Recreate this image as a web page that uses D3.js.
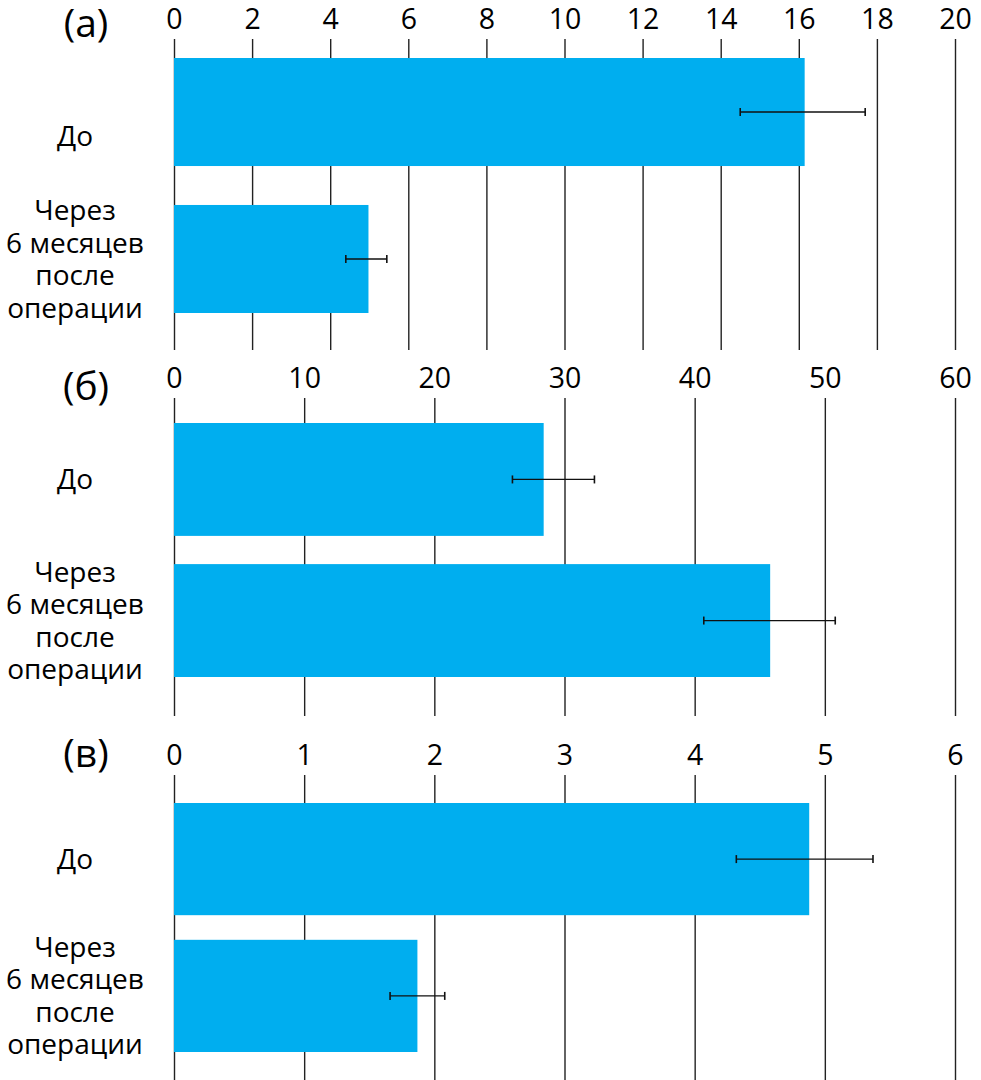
<!DOCTYPE html>
<html lang="ru">
<head>
    <meta charset="UTF-8">
    <title>До и через 6 месяцев после операции</title>
    <script src="https://cdn.jsdelivr.net/npm/d3@7/dist/d3.min.js"></script>
    <style>
        body { margin: 0; background: #fff; }
        text { font-family: "Open Sans", "Noto Sans", sans-serif; fill: #000; }
    </style>
</head>
<body>
    <svg width="981" height="1080" id="chart"></svg>
    <script>
        // data
        const categories = ["До", "Через 6 месяцев после операции"];
        const labelLines = [["До"], ["Через", "6 месяцев", "после", "операции"]];
        const panelNames = ["(а)", "(б)", "(в)"];
        const axisMax = [20, 60, 6];
        const tickStep = [2, 10, 1];

        const valuesA = [16.15, 4.98];
        const errLowA = [14.5, 4.4];
        const errHighA = [17.7, 5.45];

        const valuesB = [28.4, 45.8];
        const errLowB = [26.0, 40.7];
        const errHighB = [32.3, 50.8];

        const valuesC = [4.88, 1.87];
        const errLowC = [4.32, 1.66];
        const errHighC = [5.37, 2.08];

        const allValues = [valuesA, valuesB, valuesC];
        const allLow = [errLowA, errLowB, errLowC];
        const allHigh = [errHighA, errHighB, errHighC];

        // layout of each panel (pixels)
        const layout = [
            { gridTop: 39, gridBottom: 350, barTop: 58, barBottom: 313, pad: 0.265, labelY: 23, firstShift: 24 },
            { gridTop: 398, gridBottom: 716, barTop: 423, barBottom: 677, pad: 0.2, labelY: 386, firstShift: 0 },
            { gridTop: 775, gridBottom: 1080, barTop: 803, barBottom: 1052, pad: 0.18, labelY: 753, firstShift: 0 }
        ];

        const x0 = 174, x1 = 955;
        const svg = d3.select('#chart');

        layout.forEach(function(L, p) {
            const g = svg.append('g');
            const x = d3.scaleLinear().domain([0, axisMax[p]]).range([x0, x1]);
            const y = d3.scaleBand().domain(categories)
                .range([L.barTop, L.barBottom])
                .paddingInner(L.pad).paddingOuter(0);

            const ticks = d3.range(0, axisMax[p] + tickStep[p] / 2, tickStep[p]);
            const axis = d3.axisTop(x)
                .tickValues(ticks)
                .tickFormat(d3.format('d'))
                .tickSizeInner(-(L.gridBottom - L.gridTop))
                .tickSizeOuter(0)
                .tickPadding(10);

            const ax = g.append('g')
                .attr('transform', 'translate(0,' + L.gridTop + ')')
                .call(axis);
            ax.select('.domain').remove();
            ax.selectAll('.tick line')
                .attr('stroke', '#222')
                .attr('stroke-width', 1.4);
            ax.selectAll('.tick text')
                .attr('font-size', 28.5)
                .attr('font-family', '"Open Sans", sans-serif')
                .attr('fill', '#000');

            // panel label
            g.append('text')
                .attr('x', 86)
                .attr('y', L.labelY)
                .attr('dy', '0.35em')
                .attr('text-anchor', 'middle')
                .attr('font-size', 39)
                .text(panelNames[p]);

            // bars
            g.selectAll('rect.bar')
                .data(categories)
                .enter()
                .append('rect')
                .attr('class', 'bar')
                .attr('fill', '#00AEEF')
                .attr('x', x(0))
                .attr('y', function(d) { return y(d); })
                .attr('width', function(d, i) { return x(allValues[p][i]) - x(0); })
                .attr('height', y.bandwidth());

            // error bars
            const eb = g.selectAll('g.err')
                .data(categories)
                .enter()
                .append('g')
                .attr('class', 'err')
                .attr('transform', function(d) { return 'translate(0,' + (y(d) + y.bandwidth() / 2) + ')'; });
            eb.append('line')
                .attr('x1', function(d, i) { return x(allLow[p][i]); })
                .attr('x2', function(d, i) { return x(allHigh[p][i]); })
                .attr('stroke', '#111').attr('stroke-width', 1.3);
            [allLow[p], allHigh[p]].forEach(function(arr) {
                eb.append('line')
                    .attr('x1', function(d, i) { return x(arr[i]); })
                    .attr('x2', function(d, i) { return x(arr[i]); })
                    .attr('y1', -4).attr('y2', 4)
                    .attr('stroke', '#111').attr('stroke-width', 1.6);
            });

            // category labels
            const lineH = 32.5;
            g.selectAll('text.cat')
                .data(categories)
                .enter()
                .append('text')
                .attr('class', 'cat')
                .attr('text-anchor', 'middle')
                .attr('font-size', 28)
                .attr('x', 75)
                .each(function(d, i) {
                    const lines = labelLines[i];
                    const cy = y(d) + y.bandwidth() / 2 + (i === 0 ? L.firstShift : 0);
                    const start = cy - (lines.length - 1) * lineH / 2;
                    d3.select(this).selectAll('tspan')
                        .data(lines)
                        .enter()
                        .append('tspan')
                        .attr('x', 75)
                        .attr('y', function(s, k) { return start + k * lineH; })
                        .attr('dy', '0.35em')
                        .text(function(s) { return s; });
                });
        });
    </script>
</body>
</html>
